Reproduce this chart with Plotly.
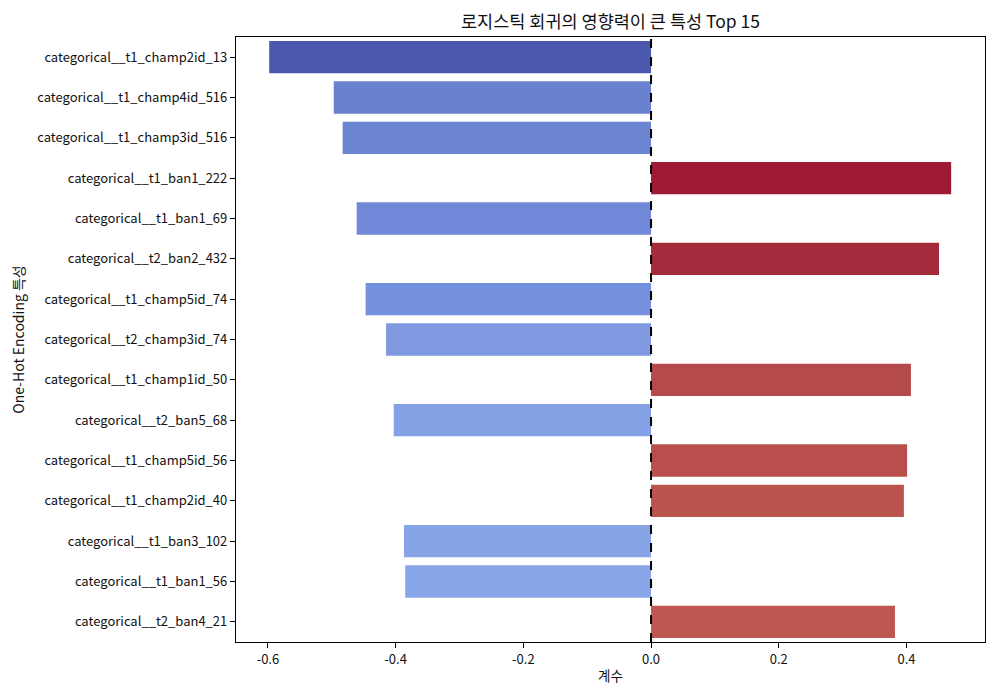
import plotly.graph_objects as go

features = [
    "categorical__t1_champ2id_13",
    "categorical__t1_champ4id_516",
    "categorical__t1_champ3id_516",
    "categorical__t1_ban1_222",
    "categorical__t1_ban1_69",
    "categorical__t2_ban2_432",
    "categorical__t1_champ5id_74",
    "categorical__t2_champ3id_74",
    "categorical__t1_champ1id_50",
    "categorical__t2_ban5_68",
    "categorical__t1_champ5id_56",
    "categorical__t1_champ2id_40",
    "categorical__t1_ban3_102",
    "categorical__t1_ban1_56",
    "categorical__t2_ban4_21",
]
coefs = [-0.598, -0.497, -0.483, 0.470, -0.461, 0.451, -0.447, -0.415,
         0.407, -0.403, 0.401, 0.396, -0.387, -0.385, 0.382]
bar_colors = ["#4a58ae", "#6a81d0", "#6c85d3", "#9e1a35", "#7189d8",
              "#a42b3b", "#7590dd", "#809ae2", "#b54a4b", "#84a1e5",
              "#b84f4d", "#bb534f", "#87a4e6", "#89a6e8", "#be5751"]

font = "Noto Sans CJK KR, Malgun Gothic, sans-serif"

fig = go.Figure(go.Bar(
    x=coefs, y=features, orientation="h",
    marker=dict(color=bar_colors, line=dict(width=0)),
    width=0.8,
))

# zero reference line
fig.add_vline(x=0, line=dict(color="black", width=2, dash="dash"))

fig.update_layout(
    width=1000, height=700,
    margin=dict(l=228, r=23, t=29, b=66, autoexpand=False),
    plot_bgcolor="white", paper_bgcolor="white",
    font=dict(family=font, size=13, color="#111111"),
    title=dict(text="로지스틱 회귀의 영향력이 큰 특성 Top 15",
               xref="paper", x=0.5, xanchor="center",
               y=0.98, yanchor="middle",
               font=dict(size=17.5)),
    showlegend=False,
    bargap=0.2,
)
fig.update_xaxes(
    range=[-0.650, 0.523],
    tickvals=[-0.6, -0.4, -0.2, 0.0, 0.2, 0.4],
    ticktext=["-0.6", "-0.4", "-0.2", "0.0", "0.2", "0.4"],
    showgrid=False, zeroline=False, automargin=False,
    showline=True, linecolor="black", linewidth=1.2, mirror=True,
    ticks="outside", ticklen=5, tickcolor="black",
    title=dict(text="계수", standoff=4, font=dict(size=13.5)),
)
fig.update_yaxes(
    autorange="reversed", automargin=False,
    showgrid=False, zeroline=False,
    showline=True, linecolor="black", linewidth=1.2, mirror=True,
    ticks="outside", ticklen=5, tickcolor="black",
    title=dict(text="One-Hot Encoding 특성", standoff=12, font=dict(size=14)),
)

fig.write_html("out.html")
